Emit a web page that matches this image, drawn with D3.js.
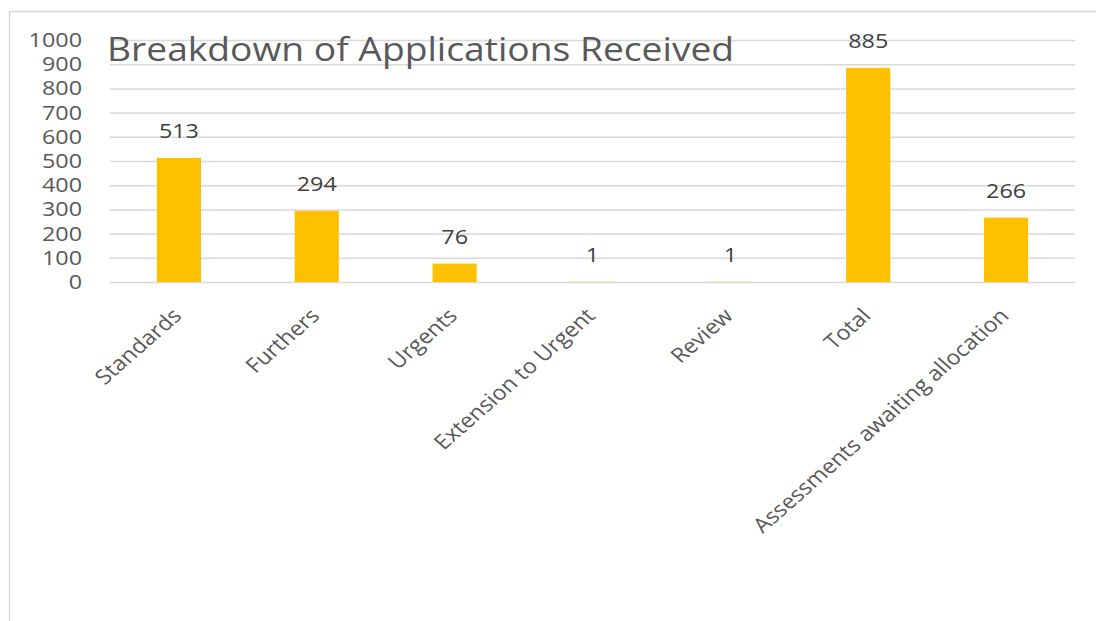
<!DOCTYPE html>
<html>
<head>
<meta charset="utf-8">
<script src="https://cdn.jsdelivr.net/npm/d3@7"></script>
<style>
  html, body { margin: 0; padding: 0; background: #fff; }
</style>
</head>
<body>
<div id="chart"></div>
<script>
const categories = ['Standards', 'Furthers', 'Urgents', 'Extension to Urgent', 'Review', 'Total', 'Assessments awaiting allocation'];
const values = [513, 294, 76, 1, 1, 885, 266];
const yTicks = [0, 100, 200, 300, 400, 500, 600, 700, 800, 900, 1000];
const chartTitle = 'Breakdown of Applications Received';

const width = 1096;
const height = 621;
const margin = { top: 40, right: 21, bottom: 339, left: 110 };
const font = '"Open Sans", sans-serif';
const textColor = '#595959';
// the source picture is a bit wider than tall, text looks stretched
const sx = 1.14;

const svg = d3.select('#chart')
  .append('svg')
  .attr('width', width)
  .attr('height', height)
  .style('font-family', font);

// chart area border (only top and left show in the picture)
svg.append('path')
  .attr('d', `M9.5,${height} V11.5 H${width}`)
  .attr('fill', 'none')
  .attr('stroke', '#d9d9d9')
  .attr('stroke-width', 1.5);

const x = d3.scaleBand()
  .domain(categories)
  .range([margin.left, width - margin.right])
  .paddingInner(0.68)
  .paddingOuter(0.34);

const y = d3.scaleLinear()
  .domain([0, 1000])
  .range([height - margin.bottom, margin.top]);

// gridlines + y labels
const yAxis = g => g
  .attr('transform', `translate(${margin.left},0)`)
  .call(d3.axisLeft(y).tickValues(yTicks).tickFormat(d3.format('d')).tickSize(0))
  .call(g => g.select('.domain').remove())
  .call(g => g.selectAll('text')
    .style('font-size', '20.5px')
    .style('font-family', font)
    .attr('fill', textColor)
    .attr('x', 0)
    .attr('transform', `translate(-28,0) scale(${sx},1)`))
  .call(g => g.selectAll('.tick line').clone()
    .attr('x2', width - margin.left - margin.right)
    .attr('stroke', '#d9d9d9')
    .attr('stroke-width', 1.5));

svg.append('g').call(yAxis);

// title
svg.append('text')
  .attr('transform', 'translate(107,61) scale(1.128,1)')
  .attr('font-size', 33)
  .attr('fill', textColor)
  .text(chartTitle);

// bars
svg.selectAll('rect.bar')
  .data(values)
  .enter()
  .append('rect')
  .attr('class', 'bar')
  .attr('x', (_, i) => x(categories[i]))
  .attr('y', d => y(d))
  .attr('width', x.bandwidth())
  .attr('height', d => y(0) - y(d))
  .attr('fill', '#ffc000');

// value labels
svg.selectAll('text.val')
  .data(values)
  .enter()
  .append('text')
  .attr('class', 'val')
  .attr('transform', (d, i) => `translate(${x(categories[i]) + x.bandwidth() / 2},${y(d) - 20}) scale(${sx},1)`)
  .attr('text-anchor', 'middle')
  .attr('font-size', 20.5)
  .attr('fill', '#404040')
  .text(d => d);

// x axis labels, rotated
const xAxis = g => g
  .attr('transform', `translate(0,${height - margin.bottom})`)
  .call(d3.axisBottom(x).tickSize(0).tickPadding(0))
  .call(g => g.select('.domain').remove())
  .call(g => g.selectAll('text')
    .style('font-size', '20.5px')
    .style('font-family', font)
    .attr('fill', textColor)
    .attr('text-anchor', 'end')
    .attr('y', 0)
    .attr('dy', 0)
    .attr('transform', `translate(4,35) scale(${sx},1) rotate(-45)`));

svg.append('g').call(xAxis);
</script>
</body>
</html>
